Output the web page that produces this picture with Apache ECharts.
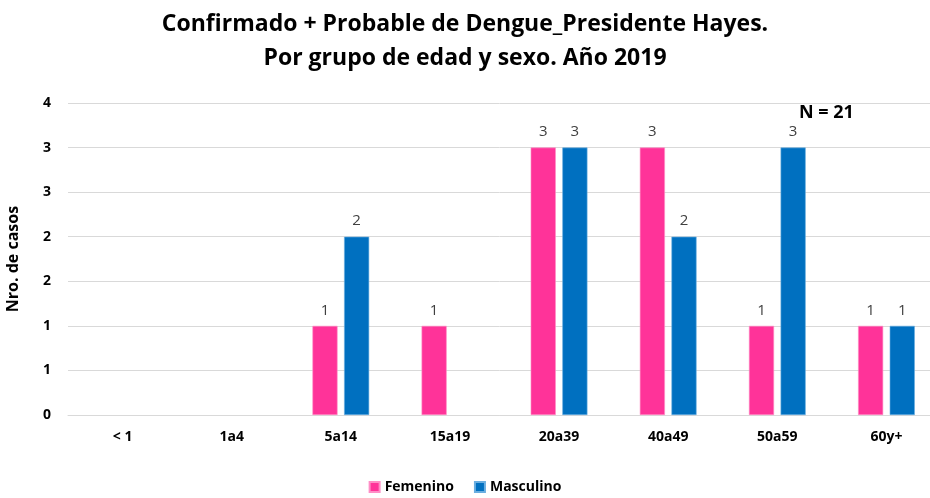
<!DOCTYPE html>
<html>
<head>
<meta charset="utf-8">
<script src="https://cdn.jsdelivr.net/npm/echarts@6/dist/echarts.min.js"></script>
<style>html,body{margin:0;padding:0;background:#fff}#c{width:930px;height:498px}</style>
</head>
<body>
<div id="c"></div>
<script>
const categories = ['< 1', '1a4', '5a14', '15a19', '20a39', '40a49', '50a59', '60y+'];
const femenino = [null, null, 1, 1, 3, 3, 1, 1];
const masculino = [null, null, 2, null, 3, 2, 3, 1];
const yTicks = { min: 0, max: 3.5, interval: 0.5 };
const titleLines = ['Confirmado + Probable de Dengue_Presidente Hayes.', 'Por grupo de edad y sexo. Año 2019'];
const nText = 'N = 21';

const FONT = '"Open Sans", "Noto Sans", sans-serif';
const chart = echarts.init(document.getElementById('c'));
chart.setOption({
  animation: false,
  backgroundColor: '#fff',
  title: [{
    text: titleLines.join('\n'),
    left: 'center', top: 2,
    textStyle: { fontFamily: FONT, fontWeight: 'bold', fontSize: 23, color: '#000', lineHeight: 34 }
  }, {
    text: nText, left: 794, top: 99,
    textStyle: { fontFamily: FONT, fontWeight: 'bold', fontSize: 18, color: '#000', letterSpacing: -0.3 }
  }],
  legend: {
    bottom: -1, left: 'center', itemWidth: 10, itemHeight: 10, itemGap: 20,
    icon: 'rect',
    textStyle: { fontFamily: FONT, fontWeight: 'bold', fontSize: 14, color: '#000' },
    data: ['Femenino', 'Masculino']
  },
  grid: { left: 68, width: 873, top: 103, bottom: 83, containLabel: false, outerBoundsMode: 'none' },
  xAxis: {
    type: 'category', data: categories,
    axisLine: { lineStyle: { color: '#d9d9d9', width: 1 } },
    axisTick: { show: false },
    axisLabel: { fontFamily: FONT, fontWeight: 'bold', fontSize: 14, color: '#000', margin: 15 }
  },
  yAxis: {
    type: 'value', min: yTicks.min, max: yTicks.max, interval: yTicks.interval,
    name: 'Nro. de casos', nameLocation: 'middle', nameGap: 47, nameRotate: 90,
    nameTextStyle: { fontFamily: FONT, fontWeight: 'bold', fontSize: 16, color: '#000' },
    axisLine: { show: false }, axisTick: { show: false },
    splitLine: { lineStyle: { color: '#d9d9d9', width: 1 } },
    axisLabel: { fontFamily: FONT, fontWeight: 'bold', fontSize: 14, color: '#000', margin: 17,
      formatter: v => String(Math.round(v)) }
  },
  series: [{
    name: 'Femenino', type: 'bar', data: femenino,
    barGap: '26%', barCategoryGap: '48%',
    itemStyle: { color: '#FF3399', borderColor: '#ff8ec6', borderWidth: 0.6 },
    label: { show: true, position: 'top', distance: 8, fontFamily: FONT, fontSize: 15, color: '#404040' }
  }, {
    name: 'Masculino', type: 'bar', data: masculino,
    itemStyle: { color: '#0070C0', borderColor: '#6aaee0', borderWidth: 0.6 },
    label: { show: true, position: 'top', distance: 8, fontFamily: FONT, fontSize: 15, color: '#404040' }
  }]
});
</script>
</body>
</html>
